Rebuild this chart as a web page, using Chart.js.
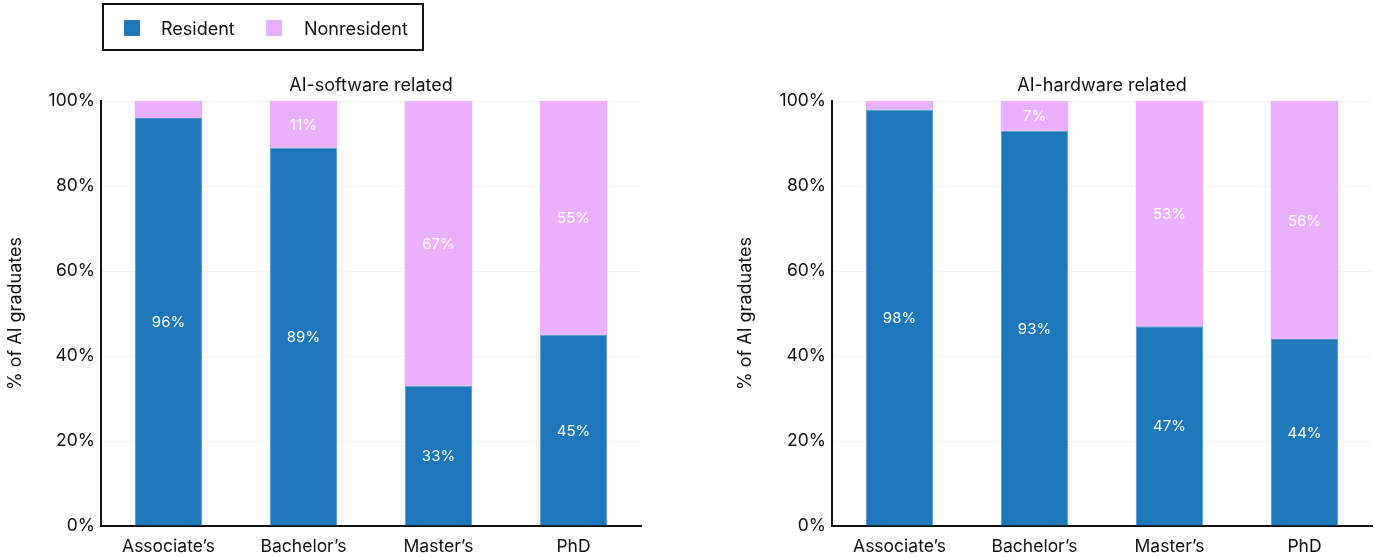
<!DOCTYPE html>
<html>
<head>
<meta charset="utf-8">
<script src="https://cdn.jsdelivr.net/npm/chart.js@4.4.1/dist/chart.umd.min.js"></script>
<style>
  html, body { margin:0; padding:0; background:#fff; width:1375px; height:557px; overflow:hidden; font-family: Inter, "Noto Sans", sans-serif; }
  .wrap { position:absolute; top:0; }
  #legend { position:absolute; left:102px; top:3px; width:318px; height:44px; border:2px solid #111; box-sizing:content-box; }
  .sw { position:absolute; top:15px; width:16px; height:16px; }
  .lt { position:absolute; top:13px; font-size:18px; color:#111; line-height:22px; }
</style>
</head>
<body>
<div class="wrap" style="left:0px;"><canvas id="c1" width="660" height="557"></canvas></div>
<div class="wrap" style="left:690px;"><canvas id="c2" width="685" height="557"></canvas></div>
<div id="legend">
  <div class="sw" style="left:20px; background:#1f77bb;"></div>
  <div class="lt" style="left:57px;">Resident</div>
  <div class="sw" style="left:162px; background:#eab0ff;"></div>
  <div class="lt" style="left:200px;">Nonresident</div>
</div>
<script>
const categories = ["Associate\u2019s", "Bachelor\u2019s", "Master\u2019s", "PhD"];
const softwareResident = [96, 89, 33, 45];
const softwareNonresident = [4, 11, 67, 55];
const hardwareResident = [98, 93, 47, 44];
const hardwareNonresident = [2, 7, 53, 56];
const yTicks = [0, 20, 40, 60, 80, 100];
const seriesNames = ["Resident", "Nonresident"];
const titles = ["AI-software related", "AI-hardware related"];
const yTitle = "% of AI graduates";

const BLUE = "#1f77bb", PINK = "#eab0ff";
const FONT = "Inter, 'Noto Sans', sans-serif";

function makeChart(id, resident, nonresident, title, axisW, padRight, yTitleX) {
  const labelPlugin = {
    id: 'extras',
    afterDatasetsDraw(chart) {
      const ctx = chart.ctx;
      ctx.save();
      ctx.fillStyle = "#ffffff";
      ctx.font = "15px " + FONT;
      ctx.textAlign = "center";
      ctx.textBaseline = "middle";
      chart.data.datasets.forEach((ds, di) => {
        const meta = chart.getDatasetMeta(di);
        meta.data.forEach((el, i) => {
          const v = ds.data[i];
          if (v >= 5) {
            ctx.fillText(v + "%", el.x, (el.y + el.base) / 2 + 1);
          }
        });
      });
      ctx.restore();
    },
    afterDraw(chart) {
      const ctx = chart.ctx;
      const a = chart.chartArea;
      ctx.save();
      ctx.fillStyle = "#111";
      ctx.font = "18px " + FONT;
      ctx.textAlign = "center";
      ctx.textBaseline = "middle";
      ctx.fillText(title, (a.left + a.right) / 2, 86);
      ctx.translate(yTitleX, (a.top + a.bottom) / 2);
      ctx.rotate(-Math.PI / 2);
      ctx.fillText(yTitle, 0, 0);
      ctx.restore();
    }
  };
  return new Chart(document.getElementById(id), {
    type: 'bar',
    data: {
      labels: categories,
      datasets: [
        { label: seriesNames[0], data: resident, backgroundColor: BLUE, borderColor: "#4f95cc", borderWidth: {left:1, right:1, top:1, bottom:0}, borderSkipped: false, categoryPercentage: 1, barPercentage: 0.5 },
        { label: seriesNames[1], data: nonresident, backgroundColor: PINK, borderColor: PINK, borderWidth: 0, categoryPercentage: 1, barPercentage: 0.5 }
      ]
    },
    options: {
      responsive: false,
      animation: false,
      devicePixelRatio: 1,
      layout: { padding: { top: 101, right: padRight, left: 0, bottom: 0 } },
      plugins: { legend: { display: false }, tooltip: { enabled: false }, title: { display: false } },
      scales: {
        x: {
          stacked: true,
          grid: { display: false, drawTicks: false },
          border: { display: true, color: "#111", width: 2 },
          ticks: { color: "#111", font: { family: FONT, size: 17.5 }, padding: 10, maxRotation: 0 },
          afterFit(s) { s.height = 31; }
        },
        y: {
          stacked: true,
          min: 0, max: 100,
          afterBuildTicks(s) { s.ticks = yTicks.map(v => ({ value: v })); },
          grid: { color: "#f3f3f3", drawTicks: false, lineWidth: 1 },
          border: { display: true, color: "#111", width: 2 },
          ticks: { color: "#111", font: { family: FONT, size: 17.5 }, padding: 6, callback: v => v + "%" },
          afterFit(s) { s.width = axisW; }
        }
      }
    },
    plugins: [labelPlugin]
  });
}

makeChart("c1", softwareResident, softwareNonresident, titles[0], 101, 19, 16);
makeChart("c2", hardwareResident, hardwareNonresident, titles[1], 142, 3, 56);
</script>
</body>
</html>
